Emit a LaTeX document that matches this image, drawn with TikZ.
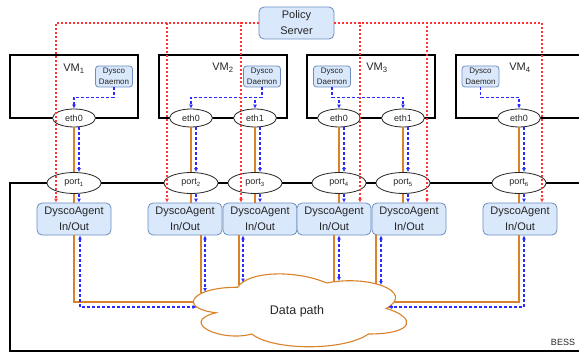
\documentclass[tikz,border=0pt]{standalone}
\usepackage{fontspec}
\setmainfont{Liberation Sans}
\usetikzlibrary{arrows.meta,shapes.geometric}

\definecolor{boxfill}{HTML}{DAE8FC}
\definecolor{boxline}{HTML}{6C8EBF}
\definecolor{wireorange}{HTML}{D9822B}
\definecolor{ctlred}{HTML}{FF3333}
\definecolor{flowblue}{HTML}{2A2AFF}
\definecolor{ink}{HTML}{262626}

\begin{document}
\begin{tikzpicture}[x=1pt,y=-1pt,
  frame/.style={draw=black, line width=1.3pt},
  bluebox/.style={draw=boxline, fill=boxfill, line width=0.8pt, text=ink,
    align=center, inner sep=0pt},
  policy/.style={bluebox, rounded corners=5pt, minimum width=75pt,
    minimum height=32pt, font=\fontsize{11}{16}\selectfont},
  daemon/.style={bluebox, rounded corners=3pt, minimum width=37pt,
    minimum height=21pt, font=\fontsize{8}{10.5}\selectfont},
  agent/.style={bluebox, rounded corners=5pt, minimum width=74pt,
    minimum height=32pt, font=\fontsize{11}{16}\selectfont},
  iface/.style={ellipse, draw=black!85, fill=white, line width=0.8pt,
    minimum width=43pt, minimum height=18pt, inner sep=0pt, text=ink,
    font=\fontsize{9}{10}\selectfont},
  portnode/.style={iface, minimum width=54pt, minimum height=21pt},
  vmlabel/.style={inner sep=0pt, text=ink, font=\fontsize{11}{12}\selectfont},
  datawire/.style={draw=wireorange, line width=1.2pt},
  flowpath/.style={draw=flowblue, line width=1.2pt, dash pattern=on 3pt off 2pt},
  ctlpath/.style={draw=ctlred, line width=1.05pt, dash pattern=on 2pt off 2pt,
    -{Latex[length=4pt,width=4pt]}},
  tip/.style={-{Latex[length=4pt,width=4pt]}},
  bothtips/.style={{Latex[length=4pt,width=4pt]}-{Latex[length=4pt,width=4pt]}}
]
\useasboundingbox (0,0) rectangle (579,353);
\clip (0,0) rectangle (579,353);

% virtual machines and the BESS switch
\draw[frame] (10,55) rectangle (138,118);
\draw[frame] (159,55) rectangle (287,118);
\draw[frame] (307,55) rectangle (435,118);
\draw[frame] (456,55) rectangle (600,118);
\draw[frame] (10,183) rectangle (600,351);

% data path cloud
\begin{scope}[shift={(178,266)}, x=238pt, y=-85pt]
  \draw[draw=wireorange, fill=white, line width=1.1pt]
    (0.25,0.25) .. controls (0.05,0.25) and (0,0.5) .. (0.16,0.55)
    .. controls (0,0.66) and (0.18,0.9) .. (0.31,0.8)
    .. controls (0.4,1) and (0.7,1) .. (0.8,0.8)
    .. controls (1,0.8) and (1,0.6) .. (0.875,0.5)
    .. controls (1,0.3) and (0.8,0.1) .. (0.625,0.2)
    .. controls (0.5,0.05) and (0.3,0.05) .. (0.25,0.25) -- cycle;
\end{scope}
\node[inner sep=0pt, text=ink, font=\fontsize{12.5}{14}\selectfont] (dp) at (297,311) {Data path};
\node[inner sep=0pt, text=ink, font=\fontsize{9}{10}\selectfont] (bess) at (563,342) {BESS};

% points where the links meet the cloud
\coordinate (cwA) at (193.5,302);
\coordinate (cwB) at (196.7,307);
\coordinate (c2A) at (201,293.4);
\coordinate (c2B) at (205,292);
\coordinate (c3A) at (239,285);
\coordinate (c3B) at (243,282.5);
\coordinate (c4A) at (334,282);
\coordinate (c4B) at (339,281);
\coordinate (c5A) at (376,284);
\coordinate (c5B) at (381,285);
\coordinate (ceA) at (393.8,302);
\coordinate (ceB) at (388,307);

% controller and daemons
\node[policy] (ps) at (296.5,23) {Policy\\Server};
\node[daemon] (d1) at (114,76.5) {Dysco\\Daemon};
\node[daemon] (d2) at (262,76.5) {Dysco\\Daemon};
\node[daemon] (d3) at (332,76.5) {Dysco\\Daemon};
\node[daemon] (d4) at (480.5,76.5) {Dysco\\Daemon};

\node[vmlabel] (vm1) at (74,69) {VM\textsubscript{1}};
\node[vmlabel] (vm2) at (223,68) {VM\textsubscript{2}};
\node[vmlabel] (vm3) at (377,68) {VM\textsubscript{3}};
\node[vmlabel] (vm4) at (520,68) {VM\textsubscript{4}};

% interfaces
\node[iface] (e1) at (74,118) {eth0};
\node[iface] (e2) at (191,118) {eth0};
\node[iface] (e3) at (255,118) {eth1};
\node[iface] (e4) at (339,118) {eth0};
\node[iface] (e5) at (403,118) {eth1};
\node[iface] (e6) at (519,118) {eth0};

\node[portnode] (p1) at (74,183) {port\textsubscript{1}};
\node[portnode] (p2) at (191,183) {port\textsubscript{2}};
\node[portnode] (p3) at (255,183) {port\textsubscript{3}};
\node[portnode] (p4) at (339,183) {port\textsubscript{4}};
\node[portnode] (p5) at (403,183) {port\textsubscript{5}};
\node[portnode] (p6) at (519,183) {port\textsubscript{6}};

\node[agent] (a1) at (74,219) {DyscoAgent\\In/Out};
\node[agent] (a2) at (185,219) {DyscoAgent\\In/Out};
\node[agent] (a3) at (260,219) {DyscoAgent\\In/Out};
\node[agent] (a4) at (334,219) {DyscoAgent\\In/Out};
\node[agent] (a5) at (409,219) {DyscoAgent\\In/Out};
\node[agent] (a6) at (520,219) {DyscoAgent\\In/Out};

% daemon to interface signalling
\draw[flowpath, tip] (d1.south) -- ++(0,10) -| (e1.north);
\draw[flowpath, tip] (d2.south) -- ++(0,10) -| (e2.north);
\draw[flowpath, tip] (d2.south) -- ++(0,10) -| (e3.north);
\draw[flowpath, tip] (d3.south) -- ++(0,10) -| (e4.north);
\draw[flowpath, tip] (d3.south) -- ++(0,10) -| (e5.north);
\draw[flowpath, tip] (d4.south) -- ++(0,10) -| (e6.north);

% interface -> port -> agent
\foreach \i in {1,...,6} {
  \draw[datawire] (e\i.south) -- (p\i.north);
  \draw[datawire] (p\i.south) -- (p\i.south |- a\i.north);
  \draw[flowpath, tip] ([xshift=5pt]e\i.south) -- ([xshift=5pt]p\i.north);
  \draw[flowpath, tip] ([xshift=5pt]p\i.south) -- ([xshift=5pt]p\i.south |- a\i.north);
}

% agents to the data path
\draw[datawire] (a1.south) |- (cwA);
\draw[flowpath, bothtips] ([xshift=6pt]a1.south) |- (cwB);
\draw[datawire] (a2.south -| c2A) -- (c2A);
\draw[flowpath, bothtips] (a2.south -| c2B) -- (c2B);
\draw[datawire] (a3.south -| c3A) -- (c3A);
\draw[flowpath, bothtips] (a3.south -| c3B) -- (c3B);
\draw[datawire] (a4.south -| c4A) -- (c4A);
\draw[flowpath, bothtips] (a4.south -| c4B) -- (c4B);
\draw[datawire] (a5.south -| c5A) -- (c5A);
\draw[flowpath, bothtips] (a5.south -| c5B) -- (c5B);
\draw[datawire] ([xshift=-1pt]a6.south) |- (ceA);
\draw[flowpath, bothtips] ([xshift=4pt]a6.south) |- (ceB);

% policy server control channels
\draw[ctlpath] (ps.west) -| ([xshift=-18pt]a1.north);
\draw[ctlpath] (ps.west) -| ([xshift=-18pt]a2.north);
\draw[ctlpath] (ps.west) -| ([xshift=-19pt]a3.north);
\draw[ctlpath] (ps.east) -| ([xshift=26pt]a4.north);
\draw[ctlpath] (ps.east) -| ([xshift=18pt]a5.north);
\draw[ctlpath] (ps.east) -| ([xshift=22pt]a6.north);
\end{tikzpicture}
\end{document}
